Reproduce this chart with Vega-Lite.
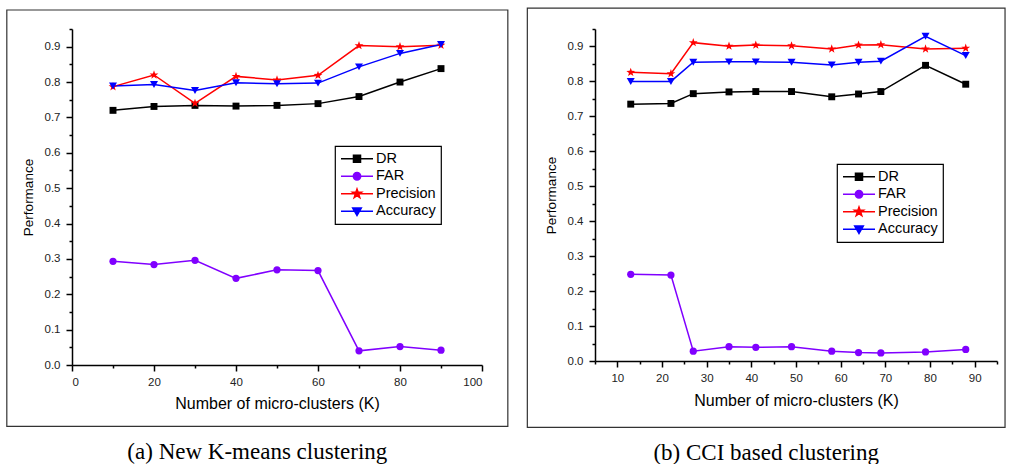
{
  "$schema": "https://vega.github.io/schema/vega-lite/v6.json",
  "background": "white",
  "padding": {"left": 6, "top": 7, "right": 0, "bottom": 0},
  "autosize": {"type": "pad"},
  "spacing": 17,
  "config": {
    "view": {"stroke": null},
    "font": "Liberation Sans",
    "axis": {
      "grid": false,
      "labelFont": "Liberation Sans",
      "labelFontSize": 11.5,
      "labelColor": "#222222",
      "titleFont": "Liberation Sans",
      "titleFontSize": 13.5,
      "titleFontWeight": "normal",
      "titleColor": "black",
      "domainColor": "black",
      "domainWidth": 1.5,
      "tickColor": "black",
      "tickWidth": 1.5
    },
    "legend": {
      "orient": "none", "title": null,
      "strokeColor": "black", "fillColor": "white", "padding": 5, "cornerRadius": 0,
      "labelFont": "Liberation Sans", "labelFontSize": 14.5, "labelColor": "black", "labelOffset": 2,
      "labelExpr": "datum.label + '    '",
      "symbolSize": 1024, "symbolOffset": 0, "rowPadding": 0.5, "clipHeight": 15.5
    }
  },
  "datasets": {
    "kmeans": [
      {"k": 10, "s": "DR", "v": 0.720}, {"k": 20, "s": "DR", "v": 0.731}, {"k": 30, "s": "DR", "v": 0.734},
      {"k": 40, "s": "DR", "v": 0.732}, {"k": 50, "s": "DR", "v": 0.734}, {"k": 60, "s": "DR", "v": 0.739},
      {"k": 70, "s": "DR", "v": 0.759}, {"k": 80, "s": "DR", "v": 0.800}, {"k": 90, "s": "DR", "v": 0.838},
      {"k": 10, "s": "FAR", "v": 0.293}, {"k": 20, "s": "FAR", "v": 0.284}, {"k": 30, "s": "FAR", "v": 0.296},
      {"k": 40, "s": "FAR", "v": 0.245}, {"k": 50, "s": "FAR", "v": 0.269}, {"k": 60, "s": "FAR", "v": 0.267},
      {"k": 70, "s": "FAR", "v": 0.040}, {"k": 80, "s": "FAR", "v": 0.052}, {"k": 90, "s": "FAR", "v": 0.042},
      {"k": 10, "s": "Precision", "v": 0.787}, {"k": 20, "s": "Precision", "v": 0.820}, {"k": 30, "s": "Precision", "v": 0.740},
      {"k": 40, "s": "Precision", "v": 0.816}, {"k": 50, "s": "Precision", "v": 0.806}, {"k": 60, "s": "Precision", "v": 0.819},
      {"k": 70, "s": "Precision", "v": 0.903}, {"k": 80, "s": "Precision", "v": 0.900}, {"k": 90, "s": "Precision", "v": 0.904},
      {"k": 10, "s": "Accuracy", "v": 0.789}, {"k": 20, "s": "Accuracy", "v": 0.793}, {"k": 30, "s": "Accuracy", "v": 0.776},
      {"k": 40, "s": "Accuracy", "v": 0.798}, {"k": 50, "s": "Accuracy", "v": 0.795}, {"k": 60, "s": "Accuracy", "v": 0.797},
      {"k": 70, "s": "Accuracy", "v": 0.843}, {"k": 80, "s": "Accuracy", "v": 0.881}, {"k": 90, "s": "Accuracy", "v": 0.906}
    ],
    "cci": [
      {"k": 13, "s": "DR", "v": 0.735}, {"k": 22, "s": "DR", "v": 0.737}, {"k": 27, "s": "DR", "v": 0.765},
      {"k": 35, "s": "DR", "v": 0.770}, {"k": 41, "s": "DR", "v": 0.771}, {"k": 49, "s": "DR", "v": 0.771},
      {"k": 58, "s": "DR", "v": 0.756}, {"k": 64, "s": "DR", "v": 0.764}, {"k": 69, "s": "DR", "v": 0.771},
      {"k": 79, "s": "DR", "v": 0.846}, {"k": 88, "s": "DR", "v": 0.792},
      {"k": 13, "s": "FAR", "v": 0.248}, {"k": 22, "s": "FAR", "v": 0.246}, {"k": 27, "s": "FAR", "v": 0.028},
      {"k": 35, "s": "FAR", "v": 0.041}, {"k": 41, "s": "FAR", "v": 0.039}, {"k": 49, "s": "FAR", "v": 0.041},
      {"k": 58, "s": "FAR", "v": 0.028}, {"k": 64, "s": "FAR", "v": 0.024}, {"k": 69, "s": "FAR", "v": 0.023},
      {"k": 79, "s": "FAR", "v": 0.026}, {"k": 88, "s": "FAR", "v": 0.033},
      {"k": 13, "s": "Precision", "v": 0.826}, {"k": 22, "s": "Precision", "v": 0.822}, {"k": 27, "s": "Precision", "v": 0.911},
      {"k": 35, "s": "Precision", "v": 0.901}, {"k": 41, "s": "Precision", "v": 0.904}, {"k": 49, "s": "Precision", "v": 0.902},
      {"k": 58, "s": "Precision", "v": 0.893}, {"k": 64, "s": "Precision", "v": 0.904}, {"k": 69, "s": "Precision", "v": 0.905},
      {"k": 79, "s": "Precision", "v": 0.893}, {"k": 88, "s": "Precision", "v": 0.895},
      {"k": 13, "s": "Accuracy", "v": 0.800}, {"k": 22, "s": "Accuracy", "v": 0.800}, {"k": 27, "s": "Accuracy", "v": 0.855},
      {"k": 35, "s": "Accuracy", "v": 0.856}, {"k": 41, "s": "Accuracy", "v": 0.856}, {"k": 49, "s": "Accuracy", "v": 0.855},
      {"k": 58, "s": "Accuracy", "v": 0.847}, {"k": 64, "s": "Accuracy", "v": 0.855}, {"k": 69, "s": "Accuracy", "v": 0.858},
      {"k": 79, "s": "Accuracy", "v": 0.929}, {"k": 88, "s": "Accuracy", "v": 0.874}
    ]
  },
  "resolve": {"scale": {"color": "independent"}, "legend": {"color": "independent"}},
  "hconcat": [
    {
      "width": 410,
      "height": 336,
      "title": {"text": "(a) New K-means clustering", "orient": "bottom", "frame": "bounds", "anchor": "middle", "font": "Liberation Serif", "fontSize": 23, "fontWeight": "normal", "color": "black", "offset": 14},
      "resolve": {"axis": {"x": "independent", "y": "independent"}},
      "layer": [
        {
          "data": {"values": [{}]},
          "mark": {"type": "rect", "filled": false, "stroke": "#333333", "strokeWidth": 1.2, "clip": false},
          "encoding": {
            "x": {"datum": -15.9, "type": "quantitative", "scale": {"domain": [0, 100], "nice": false, "zero": false},
                  "axis": {"orient": "bottom", "values": [10, 30, 50, 70, 90], "labels": false, "domain": false, "tickSize": 3, "title": null}},
            "x2": {"datum": 106.3},
            "y": {"datum": 1.0037, "type": "quantitative", "scale": {"domain": [0, 0.95], "nice": false, "zero": false},
                  "axis": {"orient": "left", "values": [0.05, 0.15, 0.25, 0.35, 0.45, 0.55, 0.65, 0.75, 0.85, 0.95], "labels": false, "domain": false, "tickSize": 3, "title": null}},
            "y2": {"datum": -0.1736}
          }
        },
        {
          "data": {"name": "kmeans"},
          "mark": {"type": "line", "strokeWidth": 1.5},
          "encoding": {
            "x": {"field": "k", "type": "quantitative", "scale": {"domain": [0, 100], "nice": false, "zero": false},
                  "axis": {"orient": "bottom", "values": [0, 20, 40, 60, 80, 100], "format": "d", "tickSize": 6, "labelPadding": 5, "title": "Number of micro-clusters (K)", "titleFontSize": 16, "titlePadding": 8}},
            "y": {"field": "v", "type": "quantitative", "scale": {"domain": [0, 0.95], "nice": false, "zero": false},
                  "axis": {"orient": "left", "values": [0, 0.1, 0.2, 0.3, 0.4, 0.5, 0.6, 0.7, 0.8, 0.9], "format": ".1f", "tickSize": 6, "labelPadding": 6, "title": "Performance", "titlePadding": 9}},
            "color": {"field": "s", "type": "nominal",
                      "scale": {"domain": ["DR", "FAR", "Precision", "Accuracy"], "range": ["#000000", "#8000ff", "#ff0000", "#0000ff"]},
                      "legend": {
                        "legendX": 263, "legendY": 117,
                        "encode": {
                          "legend": {"update": {"strokeWidth": {"value": 1.2}}},
                          "symbols": {"update": {
                          "shape": {"signal": "datum.value === 'DR' ? 'M-1,0H1M-0.22,-0.22H0.22V0.22H-0.22Z' : datum.value === 'FAR' ? 'M-1,0H1M0.23,0A0.23,0.23,0,1,1,-0.23,0A0.23,0.23,0,1,1,0.23,0Z' : datum.value === 'Precision' ? 'M-1,0H1M0,-0.3L0.07,-0.097L0.285,-0.093L0.114,0.037L0.176,0.243L0,0.12L-0.176,0.243L-0.114,0.037L-0.285,-0.093L-0.07,-0.097Z' : 'M-1,0H1M-0.27,-0.2L0.27,-0.2L0,0.27Z'"},
                          "fill": {"signal": "datum.value === 'DR' ? '#000000' : datum.value === 'FAR' ? '#8000ff' : datum.value === 'Precision' ? '#ff0000' : '#0000ff'"},
                          "stroke": {"signal": "datum.value === 'DR' ? '#000000' : datum.value === 'FAR' ? '#8000ff' : datum.value === 'Precision' ? '#ff0000' : '#0000ff'"},
                          "strokeWidth": {"value": 1.5},
                          "size": {"value": 1024},
                          "opacity": {"value": 1}
                        }}}
                      }}
          }
        },
        {
          "data": {"name": "kmeans"},
          "transform": [{"filter": "datum.s === 'DR'"}],
          "mark": {"type": "point", "filled": true, "opacity": 1, "shape": "square", "size": 48},
          "encoding": {
            "x": {"field": "k", "type": "quantitative", "axis": null},
            "y": {"field": "v", "type": "quantitative", "axis": null},
            "color": {"field": "s", "type": "nominal"}
          }
        },
        {
          "data": {"name": "kmeans"},
          "transform": [{"filter": "datum.s === 'FAR'"}],
          "mark": {"type": "point", "filled": true, "opacity": 1, "shape": "circle", "size": 52},
          "encoding": {
            "x": {"field": "k", "type": "quantitative", "axis": null},
            "y": {"field": "v", "type": "quantitative", "axis": null},
            "color": {"field": "s", "type": "nominal"}
          }
        },
        {
          "data": {"name": "kmeans"},
          "transform": [{"filter": "datum.s === 'Precision'"}],
          "mark": {"type": "point", "filled": true, "opacity": 1, "shape": "M0,-1L0.235,-0.324L0.951,-0.309L0.38,0.124L0.588,0.809L0,0.4L-0.588,0.809L-0.38,0.124L-0.951,-0.309L-0.235,-0.324Z", "size": 85},
          "encoding": {
            "x": {"field": "k", "type": "quantitative", "axis": null},
            "y": {"field": "v", "type": "quantitative", "axis": null},
            "color": {"field": "s", "type": "nominal"}
          }
        },
        {
          "data": {"name": "kmeans"},
          "transform": [{"filter": "datum.s === 'Accuracy'"}],
          "mark": {"type": "point", "filled": true, "opacity": 1, "shape": "triangle-down", "size": 64},
          "encoding": {
            "x": {"field": "k", "type": "quantitative", "axis": null},
            "y": {"field": "v", "type": "quantitative", "axis": null},
            "color": {"field": "s", "type": "nominal"}
          }
        }
      ]
    },
    {
      "width": 402,
      "height": 332,
      "title": {"text": "(b) CCI based clustering", "orient": "bottom", "frame": "bounds", "anchor": "middle", "font": "Liberation Serif", "fontSize": 23, "fontWeight": "normal", "color": "black", "offset": 14},
      "resolve": {"axis": {"x": "independent", "y": "independent"}},
      "layer": [
        {
          "data": {"values": [{}]},
          "mark": {"type": "rect", "filled": false, "stroke": "#333333", "strokeWidth": 1.2, "clip": false},
          "encoding": {
            "x": {"datum": -10.15, "type": "quantitative", "scale": {"domain": [5, 95], "nice": false, "zero": false},
                  "axis": {"orient": "bottom", "values": [5, 15, 25, 35, 45, 55, 65, 75, 85, 95], "labels": false, "domain": false, "tickSize": 3, "title": null}},
            "x2": {"datum": 96.8},
            "y": {"datum": 1.010, "type": "quantitative", "scale": {"domain": [0, 0.95], "nice": false, "zero": false},
                  "axis": {"orient": "left", "values": [0.05, 0.15, 0.25, 0.35, 0.45, 0.55, 0.65, 0.75, 0.85, 0.95], "labels": false, "domain": false, "tickSize": 3, "title": null}},
            "y2": {"datum": -0.19}
          }
        },
        {
          "data": {"name": "cci"},
          "mark": {"type": "line", "strokeWidth": 1.5},
          "encoding": {
            "x": {"field": "k", "type": "quantitative", "scale": {"domain": [5, 95], "nice": false, "zero": false},
                  "axis": {"orient": "bottom", "values": [10, 20, 30, 40, 50, 60, 70, 80, 90], "format": "d", "tickSize": 6, "labelPadding": 5, "title": "Number of micro-clusters (K)", "titleFontSize": 16, "titlePadding": 9}},
            "y": {"field": "v", "type": "quantitative", "scale": {"domain": [0, 0.95], "nice": false, "zero": false},
                  "axis": {"orient": "left", "values": [0, 0.1, 0.2, 0.3, 0.4, 0.5, 0.6, 0.7, 0.8, 0.9], "format": ".1f", "tickSize": 6, "labelPadding": 6, "title": "Performance", "titlePadding": 9}},
            "color": {"field": "s", "type": "nominal",
                      "scale": {"domain": ["DR", "FAR", "Precision", "Accuracy"], "range": ["#000000", "#8000ff", "#ff0000", "#0000ff"]},
                      "legend": {
                        "legendX": 242, "legendY": 135,
                        "encode": {
                          "legend": {"update": {"strokeWidth": {"value": 1.2}}},
                          "symbols": {"update": {
                          "shape": {"signal": "datum.value === 'DR' ? 'M-1,0H1M-0.22,-0.22H0.22V0.22H-0.22Z' : datum.value === 'FAR' ? 'M-1,0H1M0.23,0A0.23,0.23,0,1,1,-0.23,0A0.23,0.23,0,1,1,0.23,0Z' : datum.value === 'Precision' ? 'M-1,0H1M0,-0.3L0.07,-0.097L0.285,-0.093L0.114,0.037L0.176,0.243L0,0.12L-0.176,0.243L-0.114,0.037L-0.285,-0.093L-0.07,-0.097Z' : 'M-1,0H1M-0.27,-0.2L0.27,-0.2L0,0.27Z'"},
                          "fill": {"signal": "datum.value === 'DR' ? '#000000' : datum.value === 'FAR' ? '#8000ff' : datum.value === 'Precision' ? '#ff0000' : '#0000ff'"},
                          "stroke": {"signal": "datum.value === 'DR' ? '#000000' : datum.value === 'FAR' ? '#8000ff' : datum.value === 'Precision' ? '#ff0000' : '#0000ff'"},
                          "strokeWidth": {"value": 1.5},
                          "size": {"value": 1024},
                          "opacity": {"value": 1}
                        }}}
                      }}
          }
        },
        {
          "data": {"name": "cci"},
          "transform": [{"filter": "datum.s === 'DR'"}],
          "mark": {"type": "point", "filled": true, "opacity": 1, "shape": "square", "size": 48},
          "encoding": {
            "x": {"field": "k", "type": "quantitative", "axis": null},
            "y": {"field": "v", "type": "quantitative", "axis": null},
            "color": {"field": "s", "type": "nominal"}
          }
        },
        {
          "data": {"name": "cci"},
          "transform": [{"filter": "datum.s === 'FAR'"}],
          "mark": {"type": "point", "filled": true, "opacity": 1, "shape": "circle", "size": 52},
          "encoding": {
            "x": {"field": "k", "type": "quantitative", "axis": null},
            "y": {"field": "v", "type": "quantitative", "axis": null},
            "color": {"field": "s", "type": "nominal"}
          }
        },
        {
          "data": {"name": "cci"},
          "transform": [{"filter": "datum.s === 'Precision'"}],
          "mark": {"type": "point", "filled": true, "opacity": 1, "shape": "M0,-1L0.235,-0.324L0.951,-0.309L0.38,0.124L0.588,0.809L0,0.4L-0.588,0.809L-0.38,0.124L-0.951,-0.309L-0.235,-0.324Z", "size": 85},
          "encoding": {
            "x": {"field": "k", "type": "quantitative", "axis": null},
            "y": {"field": "v", "type": "quantitative", "axis": null},
            "color": {"field": "s", "type": "nominal"}
          }
        },
        {
          "data": {"name": "cci"},
          "transform": [{"filter": "datum.s === 'Accuracy'"}],
          "mark": {"type": "point", "filled": true, "opacity": 1, "shape": "triangle-down", "size": 64},
          "encoding": {
            "x": {"field": "k", "type": "quantitative", "axis": null},
            "y": {"field": "v", "type": "quantitative", "axis": null},
            "color": {"field": "s", "type": "nominal"}
          }
        }
      ]
    }
  ]
}
